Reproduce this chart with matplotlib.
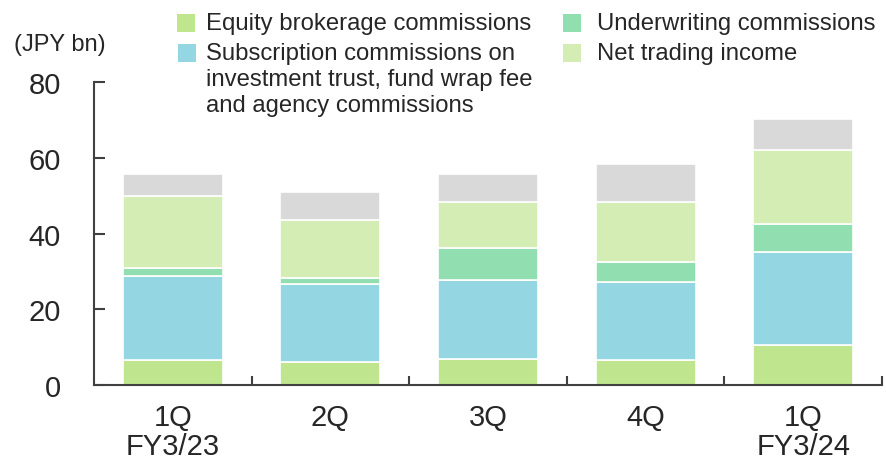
import matplotlib
matplotlib.use("Agg")
import matplotlib.pyplot as plt
from matplotlib.patches import Rectangle
import numpy as np

plt.rcParams['font.family'] = ['Liberation Sans', 'DejaVu Sans']

quarters = ["1Q\nFY3/23", "2Q", "3Q", "4Q", "1Q\nFY3/24"]
equity = [6.7, 6.1, 6.8, 6.7, 10.5]
subscription = [22.1, 20.6, 21.0, 20.6, 24.7]
underwriting = [2.1, 1.6, 8.4, 5.2, 7.3]
net_trading = [19.0, 15.2, 12.1, 15.8, 19.6]
other = [5.8, 7.4, 7.5, 10.0, 8.3]

series = [
    ("Equity brokerage commissions", equity, "#BFE58F"),
    ("Subscription commissions on\ninvestment trust, fund wrap fee\nand agency commissions", subscription, "#94D6E2"),
    ("Underwriting commissions", underwriting, "#91DEB0"),
    ("Net trading income", net_trading, "#D3EDB4"),
    ("Other", other, "#D9D9D9"),
]

text_color = "#262626"
spine_color = "#404040"

fig = plt.figure(figsize=(8.86, 4.60), dpi=100)
ax = fig.add_axes([94/886, 1-386/460, (882-94)/886, (386-83.3)/460])

x = np.arange(len(quarters))
bottom = np.zeros(len(quarters))
for name, vals, col in series:
    ax.bar(x, vals, width=0.635, bottom=bottom, color=col, edgecolor="white",
           linewidth=1.2, label=name)
    bottom += np.array(vals)

ax.set_xlim(-0.5, len(quarters) - 0.5)
ax.set_ylim(0, 80)
ax.set_yticks([0, 20, 40, 60, 80])
ax.set_xticks(x)
ax.set_xticklabels(quarters, linespacing=1.04)
ax.set_xticks(np.arange(0.5, len(quarters), 1.0), minor=True)

for s in ["top", "right"]:
    ax.spines[s].set_visible(False)
for s in ["left", "bottom"]:
    ax.spines[s].set_color(spine_color)
    ax.spines[s].set_linewidth(1.5)

ax.tick_params(axis="y", direction="in", length=8, width=1.5, color=spine_color,
               labelsize=21, labelcolor=text_color, pad=24)
ax.tick_params(axis="x", which="major", length=0, labelsize=21, labelcolor=text_color, pad=13)
ax.tick_params(axis="x", which="minor", direction="in", length=6.5, width=1.5, color=spine_color)

fig.text(14/886, 1-45/460, "(JPY bn)", fontsize=17, color=text_color, va="center", ha="left")

# Legend drawn manually (entries top aligned as in the reference)
# (marker left x, marker top y, text left x, text top y)
leg_items = [
    (177, 15, 206, 13, series[0]),
    (178, 45, 206, 43, series[1]),
    (563, 15, 597, 13, series[2]),
    (563, 45, 597, 43, series[3]),
]
for mx, my, tx, ty, (name, _, col) in leg_items:
    fig.patches.append(Rectangle((mx/886, 1-(my+17.5)/460), 18/886, 17.5/460,
                                 transform=fig.transFigure, facecolor=col,
                                 edgecolor="none"))
    fig.text(tx/886, 1-ty/460, name, fontsize=17.2, color=text_color,
             va="top", ha="left", linespacing=1.23)

fig.savefig("out.png", dpi=100)
